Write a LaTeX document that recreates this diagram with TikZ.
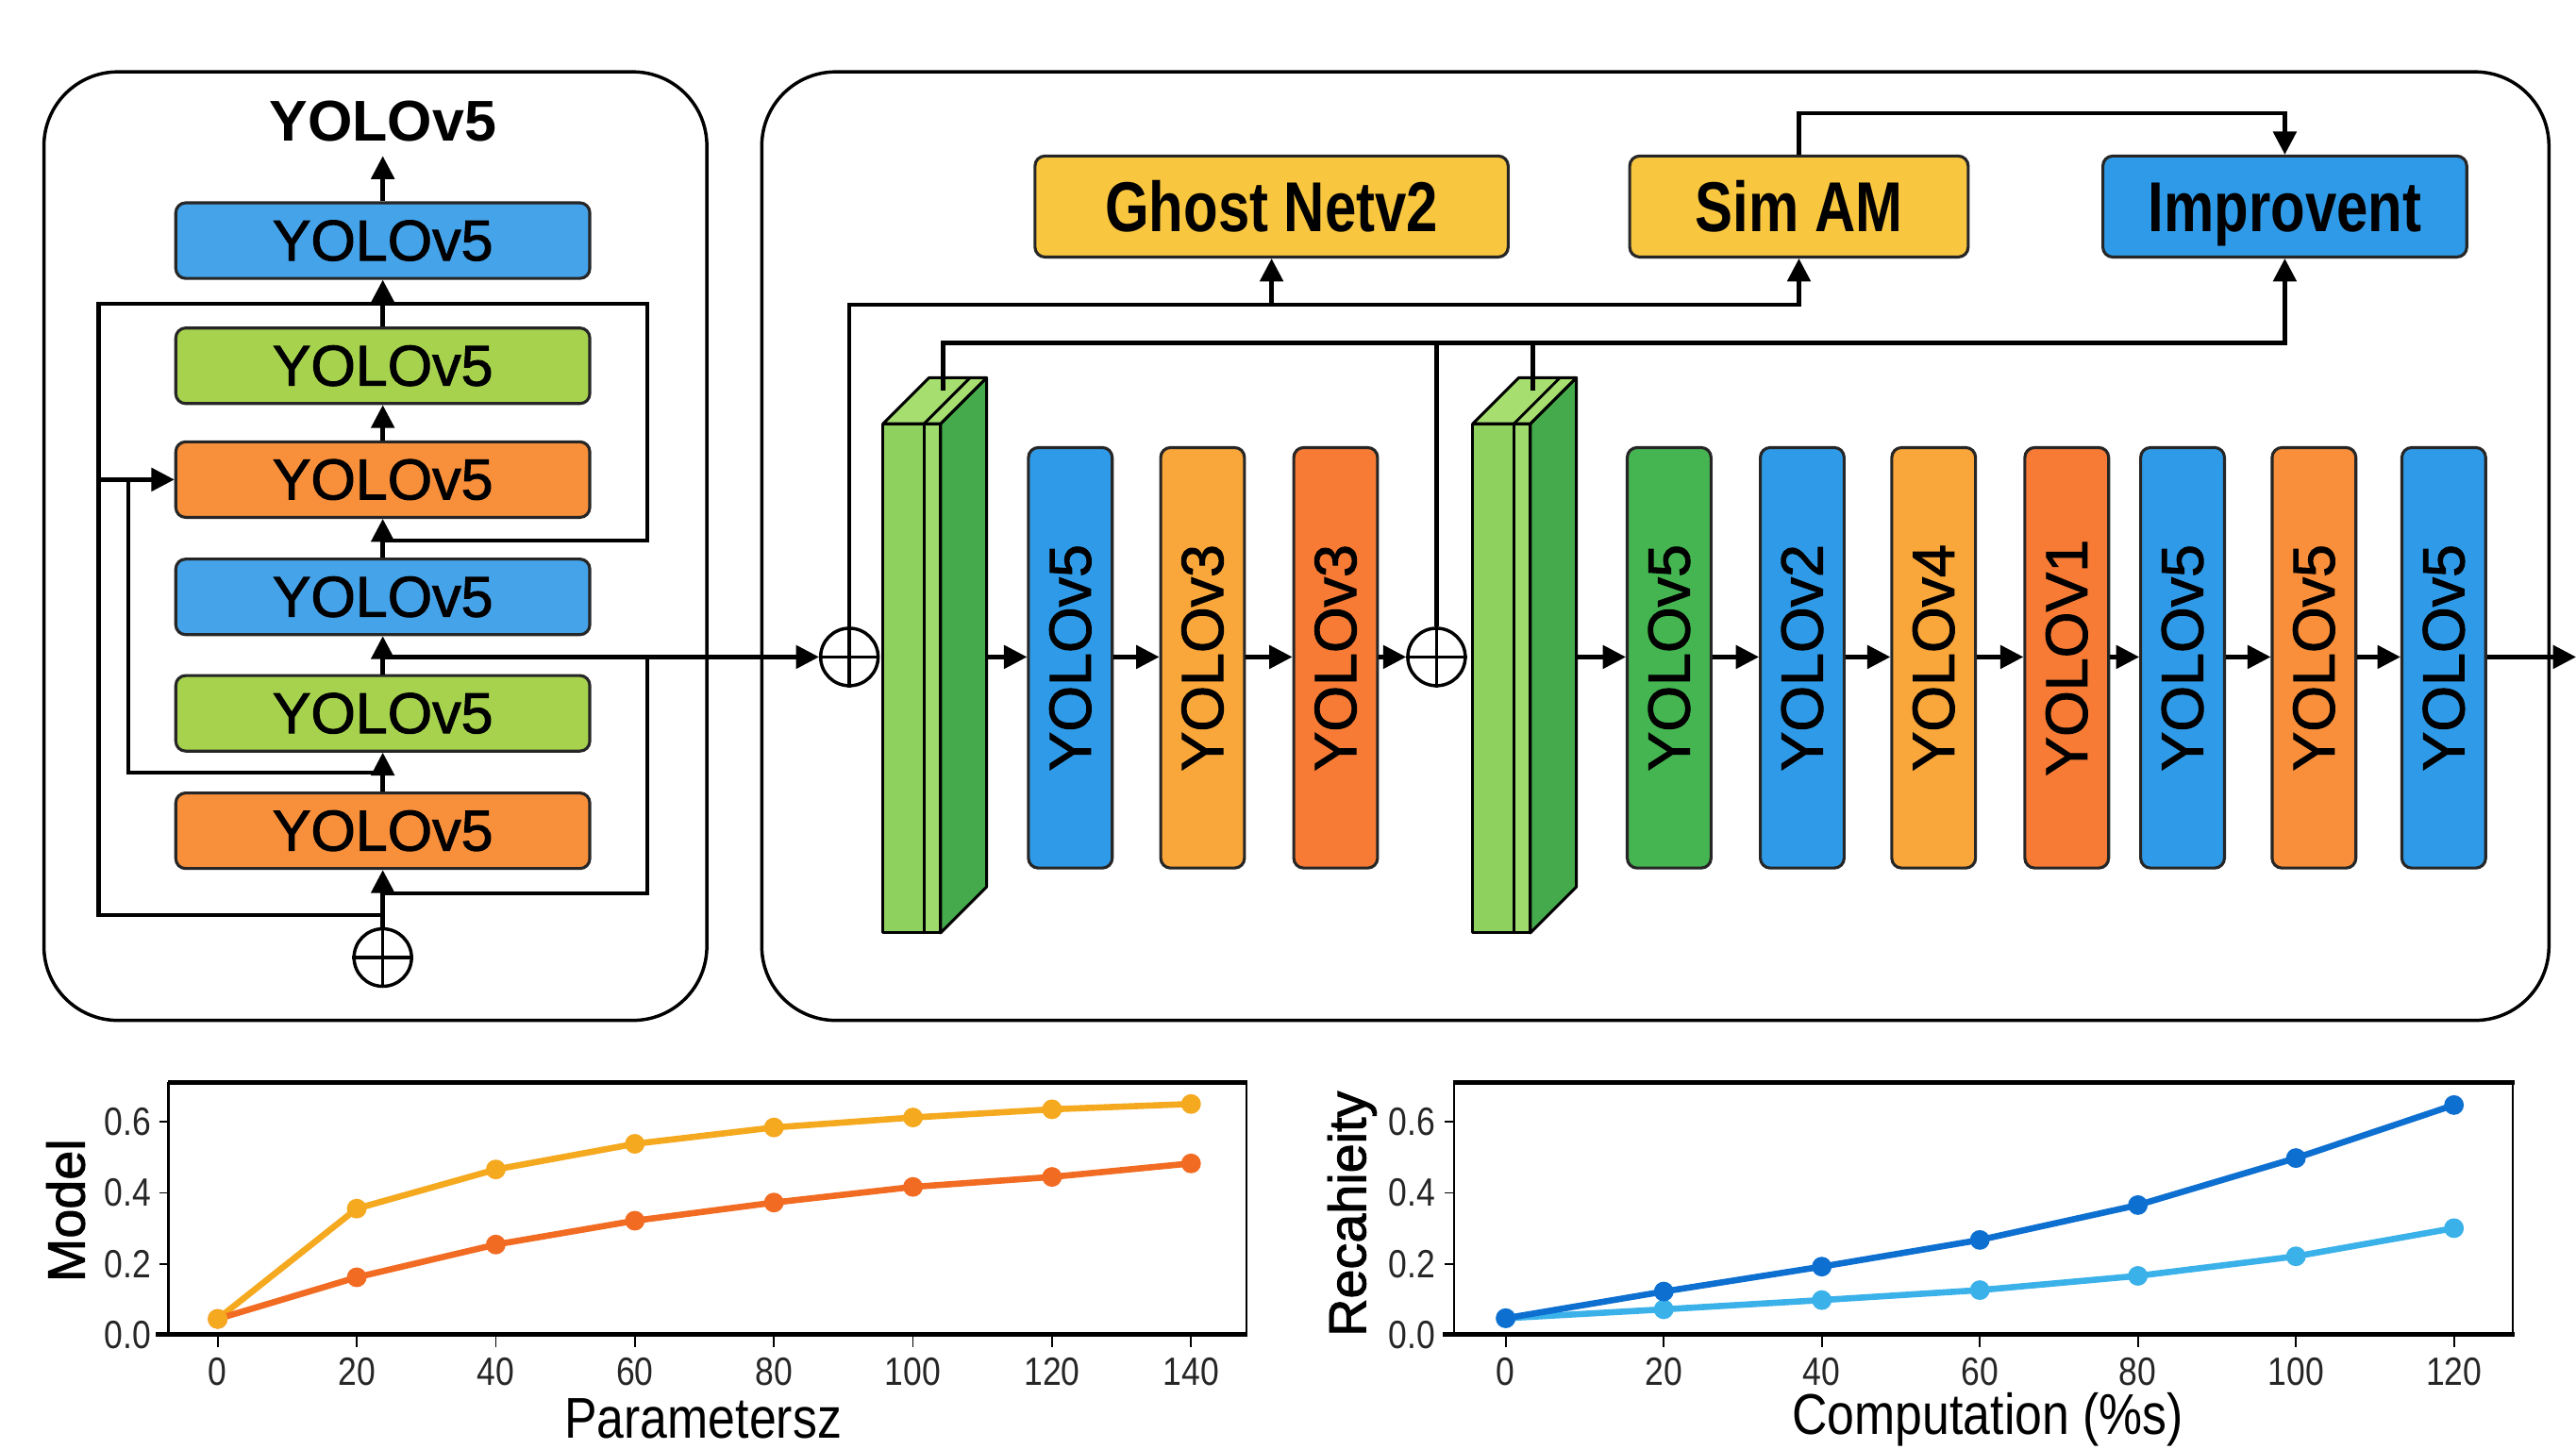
\documentclass[tikz,border=0pt]{standalone}
\usepackage{fontspec}
\setmainfont{Liberation Sans}
\newfontfamily\medfont[FakeBold=1.6]{Liberation Sans}
\newfontfamily\narrowfont[FakeStretch=0.85]{Liberation Sans}
\newfontfamily\condfont[FakeStretch=0.8]{Liberation Sans}
\usetikzlibrary{arrows.meta}
\definecolor{cBlueL}{HTML}{45A3EA}
\definecolor{cGreenL}{HTML}{A6D24E}
\definecolor{cOrangeL}{HTML}{F88F3B}
\definecolor{cBlue}{HTML}{2F9BE8}
\definecolor{cLOrange}{HTML}{F9A63A}
\definecolor{cROrange}{HTML}{F77B35}
\definecolor{cOrange}{HTML}{F98F3A}
\definecolor{cGreen}{HTML}{45B551}
\definecolor{cGold}{HTML}{F9C640}
\definecolor{gFront}{HTML}{8ED15F}
\definecolor{gStrip}{HTML}{9FDA6D}
\definecolor{gTop}{HTML}{A6DE70}
\definecolor{gSide}{HTML}{45AA4C}
\definecolor{sYel}{HTML}{F5A91F}
\definecolor{sOra}{HTML}{F26B22}
\definecolor{sDark}{HTML}{0D6FD0}
\definecolor{sLight}{HTML}{3BB1EA}
\newcommand{\greenslab}[2]{%
  \begin{scope}[shift={(#1,0)}]
    \filldraw[fill=gFront, line width=1.7pt, line join=round] (0,258) rectangle (25,568);
    \filldraw[fill=gStrip, line width=1.7pt, line join=round] (25,258) rectangle (35,568);
    \filldraw[fill=gSide, line width=1.7pt, line join=round] (35,258) -- (63,230) -- (63,540) -- (35,568) -- cycle;
    \filldraw[fill=gTop, line width=1.7pt, line join=round] (0,258) -- (28,230) -- (63,230) -- (35,258) -- cycle;
    \draw[line width=1.7pt] (25,258) -- (53,230);
    \coordinate (#2r) at (63,400);
    \coordinate (#2t) at (36.5,238);
  \end{scope}}
\begin{document}
\begin{tikzpicture}[x=1pt,y=-1pt,
  wire/.style={line width=2.5pt, draw=black, line join=miter},
  conn/.style={wire, -{Triangle[length=14pt,width=14pt]}},
  lbox/.style={draw=black!85, line width=1.8pt, rounded corners=6pt, minimum width=252pt, minimum height=46pt, inner sep=0pt, font={\medfont\fontsize{35}{40}\selectfont}},
  vbar/.style={draw=black!85, line width=1.8pt, rounded corners=6pt, minimum width=51pt, minimum height=256pt, inner sep=0pt, font={\medfont\fontsize{36}{40}\selectfont}},
  tbox/.style={draw=black!85, line width=1.8pt, rounded corners=6pt, minimum height=61.5pt, inner sep=0pt, text height=31pt, text depth=0pt, font={\condfont\bfseries\fontsize{43}{48}\selectfont}},
  oplus/.style={circle, draw, line width=2pt, minimum size=35pt, inner sep=0pt, fill=white},
  panel/.style={draw, line width=2pt, rounded corners=45pt, inner sep=0pt},
  ticklab/.style={font={\narrowfont\fontsize{24}{27}\selectfont}, text=black!85, inner sep=0pt},
  axlab/.style={font={\narrowfont\fontsize{35}{40}\selectfont}, inner sep=0pt},
  series/.style={line width=3.8pt, line join=round, line cap=round}
]
\fill[white] (0,0) rectangle (1568,882);
\useasboundingbox (0,0) rectangle (1568,882);

% ---------------- panels
\node[panel, minimum width=403.5pt, minimum height=577.5pt] (lpanel) at (228.5,332.5) {};
\node[panel, minimum width=1087.8pt, minimum height=577.5pt] (rpanel) at (1007.6,332.5) {};

% ---------------- left panel
\node[font={\bfseries\fontsize{35}{40}\selectfont}, inner sep=0pt] (title) at (233,74) {YOLOv5};
\coordinate (jT) at (233,95);
\node[lbox, fill=cBlueL]   (lb1) at (233,146.5) {YOLOv5};
\node[lbox, fill=cGreenL]  (lb2) at (233,222.7) {YOLOv5};
\node[lbox, fill=cOrangeL] (lb3) at (233,292)   {YOLOv5};
\node[lbox, fill=cBlueL]   (lb4) at (233,363.4) {YOLOv5};
\node[lbox, fill=cGreenL]  (lb5) at (233,434.3) {YOLOv5};
\node[lbox, fill=cOrangeL] (lb6) at (233,505.8) {YOLOv5};
\node[oplus] (lp) at (233,583) {};
\draw[line width=2pt] (lp.north) -- (lp.south) (lp.west) -- (lp.east);

\coordinate (sp557) at (233,557);
\coordinate (sp544) at (233,544);
\coordinate (sp470) at (233,470.5);
\coordinate (sp400) at (233,400);
\coordinate (sp329) at (233,329);
\coordinate (jL292) at (60,292);

\draw[wire] (sp557) -- (60,557) -- (60,185) -- (394,185) -- (394,329) -- (sp329);
\draw[wire] (sp470) -- (78,470.5) -- (78,292);
\draw[wire] (sp544) -- (394,544) -- (394,400);
\draw[conn] (jL292) -- (lb3.west);

\draw[conn] (lp.north) -- (lb6.south);
\draw[conn] (lb6.north) -- (lb5.south);
\draw[conn] (lb5.north) -- (lb4.south);
\draw[conn] (lb4.north) -- (lb3.south);
\draw[conn] (lb3.north) -- (lb2.south);
\draw[conn] (lb2.north) -- (lb1.south);
\draw[conn] (lb1.north) -- (jT);

% ---------------- right panel
\node[oplus] (p1) at (517,400) {};
\node[oplus] (p2) at (874.4,400) {};
\draw[line width=2pt] (p1.north) -- (p1.south) (p1.west) -- (p1.east);
\draw[line width=2pt] (p2.north) -- (p2.south) (p2.west) -- (p2.east);
\draw[conn] (sp400) -- (p1.west);

\greenslab{537.5}{blkA}
\greenslab{896.5}{blkB}

\node[vbar, fill=cBlue]    (b1)  at (651.5,400.5)  {\rotatebox{90}{YOLOv5}};
\node[vbar, fill=cLOrange] (b2)  at (732,400.5)    {\rotatebox{90}{YOLOv3}};
\node[vbar, fill=cROrange] (b3)  at (813,400.5)    {\rotatebox{90}{YOLOv3}};
\node[vbar, fill=cGreen]   (b4)  at (1016,400.5)   {\rotatebox{90}{YOLOv5}};
\node[vbar, fill=cBlue]    (b5)  at (1097,400.5)   {\rotatebox{90}{YOLOv2}};
\node[vbar, fill=cLOrange] (b6)  at (1177,400.5)   {\rotatebox{90}{YOLOv4}};
\node[vbar, fill=cROrange] (b7)  at (1258,400.5)   {\rotatebox{90}{YOLOV1}};
\node[vbar, fill=cBlue]    (b8)  at (1328.5,400.5) {\rotatebox{90}{YOLOv5}};
\node[vbar, fill=cOrange]  (b9)  at (1408.5,400.5) {\rotatebox{90}{YOLOv5}};
\node[vbar, fill=cBlue]    (b10) at (1487.5,400.5) {\rotatebox{90}{YOLOv5}};
\coordinate (outEnd) at (1568,400);

\draw[conn] (blkAr) -- (b1.west |- blkAr);
\draw[conn] (b1.east |- p1) -- (b2.west |- p1);
\draw[conn] (b2.east |- p1) -- (b3.west |- p1);
\draw[conn] (b3.east |- p1) -- (p2.west);
\draw[conn] (blkBr) -- (b4.west |- blkBr);
\draw[conn] (b4.east |- p1) -- (b5.west |- p1);
\draw[conn] (b5.east |- p1) -- (b6.west |- p1);
\draw[conn] (b6.east |- p1) -- (b7.west |- p1);
\draw[conn] (b7.east |- p1) -- (b8.west |- p1);
\draw[conn] (b8.east |- p1) -- (b9.west |- p1);
\draw[conn] (b9.east |- p1) -- (b10.west |- p1);
\draw[conn] (b10.east |- p1) -- (outEnd);

% top boxes
\node[tbox, fill=cGold, minimum width=288pt]   (g)  at (774,125.75)    {Ghost Netv2};
\node[tbox, fill=cGold, minimum width=206pt]   (s)  at (1095,125.75)   {Sim AM};
\node[tbox, fill=cBlue, minimum width=221.5pt] (im) at (1390.75,125.75) {Improvent};

\coordinate (h1L) at (517,185.5);
\coordinate (h1R) at (1095,185.5);
\coordinate (h2L) at (574,208.8);
\coordinate (h2R) at (1390.75,208.8);
\coordinate (h3) at (0,69);

\draw[conn] (p1.north) -- (h1L) -- (h1R) -- (s.south);
\draw[conn] (g.south |- h1L) -- (g.south);
\draw[conn] (blkAt) -- (h2L) -- (h2R) -- (im.south);
\draw[wire] (p2.north) -- (p2.north |- h2L);
\draw[wire] (blkBt) -- (blkBt |- h2L);
\draw[conn] (s.north) -- (s.north |- h3) -- (im.north |- h3) -- (im.north);

% ---------------- chart 1
\draw[line width=1.2pt] (102.5,659) -- (102.5,812.5) (758.5,659) -- (758.5,812.5);
\draw[line width=2.8pt] (102,659) -- (759.5,659);
\draw[line width=2.8pt] (95,812.5) -- (759.5,812.5);
\foreach \t/\yy [count=\i] in {0.0/813,0.2/769.7,0.4/726.3,0.6/683} {
  \draw[line width=0.8pt] (97,\yy) -- (102.5,\yy);
  \node[ticklab, anchor=east] (ya\i) at (92,\yy) {\t};
}
\begin{scope}[shift={(132.5,813)}, x=4.232pt, y=216.7pt]
  \foreach \v [count=\i] in {0,20,40,60,80,100,120,140} {
    \draw[line width=1pt] (\v,0) -- ++(0pt,-7pt);
    \node[ticklab] (xa\i) at ([yshift=-22pt]\v,0) {\v};
  }
  \foreach \xv/\yv [count=\i] in {0/0.046,20/0.356,40/0.466,60/0.538,80/0.584,100/0.612,120/0.635,140/0.650}
    \coordinate (cy\i) at (\xv,\yv);
  \foreach \xv/\yv [count=\i] in {0/0.046,20/0.163,40/0.255,60/0.322,80/0.373,100/0.417,120/0.445,140/0.483}
    \coordinate (co\i) at (\xv,\yv);
  \draw[series, sYel] (cy1) -- (cy2) -- (cy3) -- (cy4) -- (cy5) -- (cy6) -- (cy7) -- (cy8);
  \draw[series, sOra] (co1) -- (co2) -- (co3) -- (co4) -- (co5) -- (co6) -- (co7) -- (co8);
  \foreach \i in {1,...,8} { \fill[sOra] (co\i) circle (6pt); }
  \foreach \i in {1,...,8} { \fill[sYel] (cy\i) circle (6pt); }
\end{scope}
\node[rotate=90, font={\medfont\fontsize{32}{35}\selectfont}, inner sep=0pt] (ylab1) at (40,737) {Model};
\node[axlab] (xlab1) at (428,864) {Parametersz};

% ---------------- chart 2
\draw[line width=1.2pt] (885,659) -- (885,812.5) (1529.5,659) -- (1529.5,812.5);
\draw[line width=2.8pt] (884.5,659) -- (1530.5,659);
\draw[line width=2.8pt] (878,812.5) -- (1530.5,812.5);
\foreach \t/\yy [count=\i] in {0.0/813,0.2/769.7,0.4/726.3,0.6/683} {
  \draw[line width=0.8pt] (879.5,\yy) -- (885,\yy);
  \node[ticklab, anchor=east] (yb\i) at (874,\yy) {\t};
}
\begin{scope}[shift={(916.5,813)}, x=4.81pt, y=216.7pt]
  \foreach \v [count=\i] in {0,20,40,60,80,100,120} {
    \draw[line width=1pt] (\v,0) -- ++(0pt,-7pt);
    \node[ticklab] (xb\i) at ([yshift=-22pt]\v,0) {\v};
  }
  \foreach \xv/\yv [count=\i] in {0/0.048,20/0.123,40/0.193,60/0.268,80/0.366,100/0.498,120/0.647}
    \coordinate (cd\i) at (\xv,\yv);
  \foreach \xv/\yv [count=\i] in {0/0.048,20/0.073,40/0.099,60/0.127,80/0.167,100/0.222,120/0.301}
    \coordinate (cl\i) at (\xv,\yv);
  \draw[series, sLight] (cl1) -- (cl2) -- (cl3) -- (cl4) -- (cl5) -- (cl6) -- (cl7);
  \draw[series, sDark] (cd1) -- (cd2) -- (cd3) -- (cd4) -- (cd5) -- (cd6) -- (cd7);
  \foreach \i in {1,...,7} { \fill[sLight] (cl\i) circle (6pt); }
  \foreach \i in {1,...,7} { \fill[sDark] (cd\i) circle (6pt); }
\end{scope}
\node[rotate=90, font={\medfont\fontsize{32}{35}\selectfont}, inner sep=0pt] (ylab2) at (823,739) {Recahieity};
\node[axlab] (xlab2) at (1210,864) {Computation (\%s)};
\end{tikzpicture}
\end{document}
